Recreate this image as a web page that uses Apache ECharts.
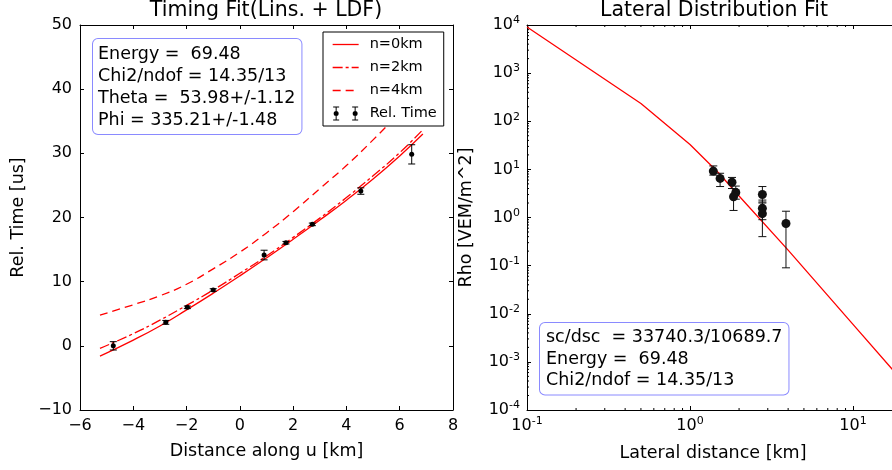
<!DOCTYPE html>
<html>
<head>
<meta charset="utf-8">
<script src="https://cdn.jsdelivr.net/npm/echarts@6/dist/echarts.min.js"></script>
<style>
  html, body { margin: 0; padding: 0; background: #fff; overflow: hidden; width: 892px; height: 470px; }
  /* wider than the window: the right panel is cropped at the picture edge */
  #main { width: 1040px; height: 470px; }
</style>
</head>
<body>
<div id="main"></div>
<script>
// ---- timing fit (left) ----
var distU = [-4.75, -2.78, -1.97, -1.0, 0.91, 1.73, 2.72, 4.54, 6.45];
var relTime = [0.0, 3.66, 6.0, 8.7, 14.15, 16.07, 18.93, 24.12, 29.84];
var relTimeErr = [0.65, 0.3, 0.2, 0.2, 0.75, 0.2, 0.2, 0.5, 1.5];

var fitX = [-5.25, -4, -3, -2, -1, 0, 1, 2, 3, 4, 5, 6, 6.87];
var fitN0 = [-1.6, 0.9, 3.1, 5.6, 8.2, 10.9, 13.7, 16.6, 19.6, 22.7, 26.0, 29.6, 33.0];
var fitN2 = [-0.4, 1.9, 4.0, 6.3, 8.7, 11.3, 14.0, 16.9, 19.9, 23.1, 26.5, 30.1, 33.7];
var fitN4 = [4.8, 6.4, 7.8, 9.6, 12.0, 14.6, 17.6, 20.9, 24.5, 28.1, 32.1, 36.3, 40.0];

// ---- lateral distribution (right) ----
var latDist = [1.39, 1.53, 1.81, 1.91, 1.85, 2.78, 2.78, 2.78, 3.88];
var rho = [9.2, 6.5, 5.4, 3.3, 2.7, 3.0, 1.55, 1.2, 0.75];
var rhoLo = [7.6, 4.4, 4.0, 2.4, 1.4, 2.1, 0.9, 0.4, 0.09];
var rhoHi = [11.8, 8.3, 6.8, 4.5, 4.0, 4.4, 2.3, 2.0, 1.35];

var ldfX = [0.1, 0.5, 1.0, 1.5, 2.0, 4.0, 10, 20];
var ldfY = [9100, 234, 33, 8.4, 2.8, 0.21, 0.006, 4.1e-4];

var timingText = ['Energy =  69.48', 'Chi2/ndof = 14.35/13', 'Theta =  53.98+/-1.12', 'Phi = 335.21+/-1.48'];
var ldfText = ['sc/dsc  = 33740.3/10689.7', 'Energy =  69.48', 'Chi2/ndof = 14.35/13'];

var FONT = 'DejaVu Sans';
var RED = '#ff0000';
var DASH2 = [10, 3, 3, 3];
var DASH4 = [8, 5];

function zip(xs, ys) {
  var out = [];
  for (var i = 0; i < xs.length; i++) out.push([xs[i], ys[i]]);
  return out;
}

// error bar with caps and a round marker
function makeErrorBar(capHalf, radius, color) {
  return function (params, api) {
    var x = api.value(0);
    var lo = api.coord([x, api.value(1)]);
    var hi = api.coord([x, api.value(2)]);
    var pt = api.coord([x, api.value(3)]);
    var st = { stroke: color, lineWidth: 1 };
    return {
      type: 'group',
      children: [
        { type: 'line', shape: { x1: lo[0], y1: lo[1], x2: hi[0], y2: hi[1] }, style: st },
        { type: 'line', shape: { x1: hi[0] - capHalf, y1: hi[1], x2: hi[0] + capHalf, y2: hi[1] }, style: st },
        { type: 'line', shape: { x1: lo[0] - capHalf, y1: lo[1], x2: lo[0] + capHalf, y2: lo[1] }, style: st },
        { type: 'circle', shape: { cx: pt[0], cy: pt[1], r: radius }, style: { fill: color } }
      ]
    };
  };
}

// minor ticks (2..9) for the log-log panel
function minorTickItem(params, api) {
  var st = { stroke: '#000', lineWidth: 1 };
  if (api.value(2) === 0) {
    var b = api.coord([api.value(0), 1e-4]);
    var t = api.coord([api.value(0), 1e4]);
    return {
      type: 'group',
      children: [
        { type: 'line', shape: { x1: b[0], y1: b[1], x2: b[0], y2: b[1] - 2 }, style: st },
        { type: 'line', shape: { x1: t[0], y1: t[1], x2: t[0], y2: t[1] + 2 }, style: st }
      ]
    };
  }
  var p = api.coord([0.1, api.value(1)]);
  return { type: 'line', shape: { x1: p[0], y1: p[1], x2: p[0] + 2, y2: p[1] }, style: st };
}

var minorTicks = [];
for (var e = -1; e <= 1; e++) {
  for (var k = 2; k <= 9; k++) minorTicks.push([k * Math.pow(10, e), 1, 0]);
}
for (var e2 = -4; e2 < 4; e2++) {
  for (var k2 = 2; k2 <= 9; k2++) minorTicks.push([1, k2 * Math.pow(10, e2), 1]);
}

var timingBars = [];
for (var i = 0; i < distU.length; i++) {
  timingBars.push([distU[i], relTime[i] - relTimeErr[i], relTime[i] + relTimeErr[i], relTime[i]]);
}
var rhoBars = [];
for (var j = 0; j < latDist.length; j++) {
  rhoBars.push([latDist[j], rhoLo[j], rhoHi[j], rho[j]]);
}

// legend icon: two small error bars with dots
function barPath(cx) {
  return 'M' + (cx - 3) + ',0 h6 v1 h-6 Z ' +
    'M' + (cx - 0.5) + ',0 h1 v4.5 h-1 Z ' +
    'M' + (cx - 0.5) + ',9.5 h1 v4.5 h-1 Z ' +
    'M' + (cx - 3) + ',13 h6 v1 h-6 Z ' +
    'M' + (cx - 2.5) + ',7 a2.5,2.5 0 1,0 5,0 a2.5,2.5 0 1,0 -5,0 Z';
}
var relIcon = 'path://' + barPath(3) + ' ' + barPath(22);

function minusFmt(v) {
  return String(v).replace('-', '\u2212');
}
function powFmt(v) {
  var ex = Math.round(Math.log(v) / Math.LN10);
  if (Math.abs(Math.pow(10, ex) - v) / v > 1e-6) return '';
  return '{b|10}{s|' + ex + '}';
}
var powRich = {
  b: { fontSize: 16, lineHeight: 20, fontFamily: FONT, color: '#000' },
  s: { fontSize: 11, lineHeight: 11, verticalAlign: 'top', fontFamily: FONT, color: '#000' }
};

var tickLabel = { fontSize: 16, fontFamily: FONT, color: '#000' };
var axisLine = { show: true, onZero: false, lineStyle: { color: '#000', width: 1 } };
var tickIn = { inside: true, length: 4, lineStyle: { color: '#000' } };
var nameStyle = { fontSize: 17.5, fontFamily: FONT, color: '#000' };
var hideSym = { color: 'rgba(0,0,0,0)', borderColor: 'rgba(0,0,0,0)', opacity: 0 };

var chart = echarts.init(document.getElementById('main'));
chart.setOption({
  animation: false,
  backgroundColor: '#fff',
  textStyle: { fontFamily: FONT },
  grid: [
    { left: 80, top: 25, width: 373, height: 385 },
    { left: 527, top: 25, width: 489, height: 385 }
  ],
  xAxis: [
    {
      gridIndex: 0, type: 'value', min: -6, max: 8, interval: 2,
      name: 'Distance along u [km]', nameLocation: 'middle', nameGap: 32, nameTextStyle: nameStyle,
      axisLine: axisLine, axisTick: tickIn,
      axisLabel: Object.assign({ margin: 8, formatter: minusFmt }, tickLabel),
      splitLine: { show: false }
    },
    {
      gridIndex: 0, type: 'value', position: 'top', min: -6, max: 8, interval: 2,
      axisLine: axisLine, axisTick: tickIn,
      axisLabel: { show: false }, splitLine: { show: false }
    },
    {
      gridIndex: 1, type: 'log', logBase: 10, min: 0.1, max: 100,
      axisLine: axisLine, axisTick: tickIn,
      axisLabel: { margin: 6, formatter: powFmt, rich: powRich },
      splitLine: { show: false }
    },
    {
      gridIndex: 1, type: 'log', logBase: 10, min: 0.1, max: 100, position: 'top',
      axisLine: axisLine, axisTick: tickIn,
      axisLabel: { show: false }, splitLine: { show: false }
    }
  ],
  yAxis: [
    {
      gridIndex: 0, type: 'value', min: -10, max: 50, interval: 10,
      name: 'Rel. Time [us]', nameLocation: 'middle', nameGap: 53, nameTextStyle: nameStyle,
      axisLine: axisLine, axisTick: tickIn,
      axisLabel: Object.assign({ margin: 8, formatter: minusFmt }, tickLabel),
      splitLine: { show: false }
    },
    {
      gridIndex: 0, type: 'value', position: 'right', min: -10, max: 50, interval: 10,
      axisLine: axisLine, axisTick: tickIn,
      axisLabel: { show: false }, splitLine: { show: false }
    },
    {
      gridIndex: 1, type: 'log', logBase: 10, min: 1e-4, max: 1e4, splitNumber: 8,
      name: 'Rho [VEM/m^2]', nameLocation: 'middle', nameGap: 52, nameTextStyle: nameStyle,
      axisLine: axisLine, axisTick: tickIn,
      axisLabel: { margin: 7, formatter: powFmt, rich: powRich },
      splitLine: { show: false }
    }
  ],
  legend: {
    data: [
      { name: 'n=0km', itemStyle: hideSym, lineStyle: { color: RED, width: 1.3, type: 'solid' } },
      { name: 'n=2km', itemStyle: hideSym, lineStyle: { color: RED, width: 1.3, type: DASH2 } },
      { name: 'n=4km', itemStyle: hideSym, lineStyle: { color: RED, width: 1.3, type: DASH4 } },
      { name: 'Rel. Time', icon: relIcon }
    ],
    orient: 'vertical',
    left: 323, top: 32,
    padding: [5, 7, 5, 9],
    itemWidth: 26, itemHeight: 14, itemGap: 8,
    backgroundColor: '#fff', borderColor: '#000', borderWidth: 1, borderRadius: 0,
    textStyle: { fontSize: 14.5, fontFamily: FONT, color: '#000', padding: [0, 0, 0, 6] }
  },
  graphic: [
    {
      type: 'text', x: 266, y: 0,
      style: { text: 'Timing Fit(Lins. + LDF)', font: '20.5px "DejaVu Sans"', fill: '#000', align: 'center', verticalAlign: 'top' }
    },
    {
      type: 'text', x: 714, y: 0,
      style: { text: 'Lateral Distribution Fit', font: '20.5px "DejaVu Sans"', fill: '#000', align: 'center', verticalAlign: 'top' }
    },
    {
      type: 'text', x: 713, y: 444,
      style: { text: 'Lateral distance [km]', font: '17.5px "DejaVu Sans"', fill: '#000', align: 'center', verticalAlign: 'top' }
    },
    {
      type: 'text', x: 93, y: 39, z: 100,
      style: {
        text: timingText.join('\n'), font: '17.5px "DejaVu Sans"', fill: '#000', lineHeight: 22,
        backgroundColor: '#fff', borderColor: '#8a8aff', borderWidth: 1, borderRadius: 5, padding: [4, 6, 3, 5]
      }
    },
    {
      type: 'text', x: 540, y: 323, z: 100,
      style: {
        text: ldfText.join('\n'), font: '17.5px "DejaVu Sans"', fill: '#000', lineHeight: 21.5,
        backgroundColor: '#fff', borderColor: '#8a8aff', borderWidth: 1, borderRadius: 5, padding: [4, 6, 3, 6]
      }
    }
  ],
  series: [
    {
      name: 'n=0km', type: 'line', xAxisIndex: 0, yAxisIndex: 0, data: zip(fitX, fitN0),
      symbol: 'none', smooth: true, color: RED, lineStyle: { width: 1.3, type: 'solid' }
    },
    {
      name: 'n=2km', type: 'line', xAxisIndex: 0, yAxisIndex: 0, data: zip(fitX, fitN2),
      symbol: 'none', smooth: true, color: RED, lineStyle: { width: 1.3, type: DASH2 }
    },
    {
      name: 'n=4km', type: 'line', xAxisIndex: 0, yAxisIndex: 0, data: zip(fitX, fitN4),
      symbol: 'none', smooth: true, color: RED, lineStyle: { width: 1.3, type: DASH4 }
    },
    {
      name: 'Rel. Time', type: 'custom', xAxisIndex: 0, yAxisIndex: 0,
      renderItem: makeErrorBar(3.5, 2.5, '#000'), data: timingBars,
      encode: { x: 0, y: 3 }, itemStyle: { color: '#000' }, z: 5
    },
    {
      type: 'line', xAxisIndex: 2, yAxisIndex: 2, data: zip(ldfX, ldfY),
      symbol: 'none', color: RED, lineStyle: { width: 1.3 }
    },
    {
      type: 'custom', xAxisIndex: 2, yAxisIndex: 2,
      renderItem: makeErrorBar(4, 4.5, '#111'), data: rhoBars,
      encode: { x: 0, y: 3 }, z: 5
    },
    {
      type: 'custom', xAxisIndex: 2, yAxisIndex: 2, silent: true,
      renderItem: minorTickItem, data: minorTicks, encode: { x: 0, y: 1 }
    }
  ]
});
</script>
</body>
</html>
